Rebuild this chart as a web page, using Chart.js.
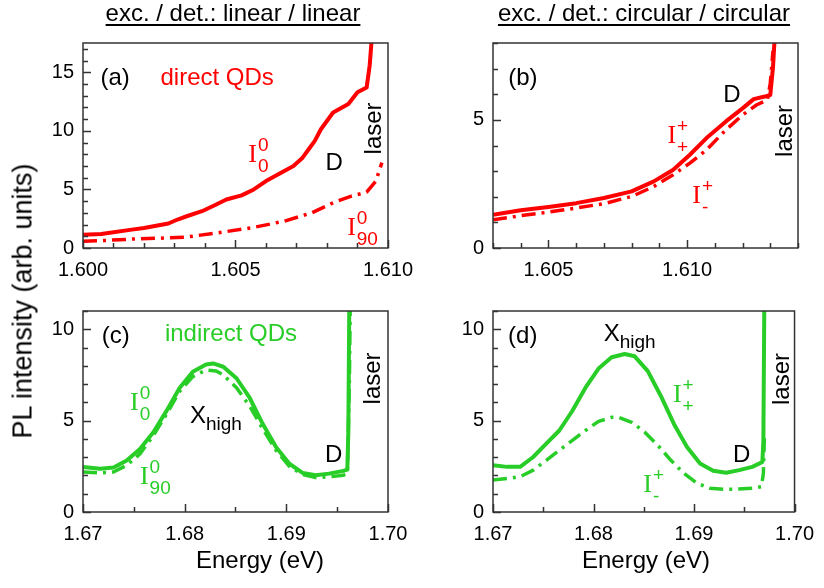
<!DOCTYPE html>
<html>
<head>
<meta charset="utf-8">
<script src="https://cdn.jsdelivr.net/npm/chart.js@4.4.1/dist/chart.umd.min.js"></script>
<style>
body { margin: 0; background: #fff; }
#fig { position: relative; width: 824px; height: 588px; overflow: hidden; font-family: "Liberation Sans", Arial, sans-serif; color: #000; }
canvas { position: absolute; }
.ttl { position: absolute; top: 1px; font-size: 24px; line-height: 24px; white-space: nowrap; transform: translateX(-50%);
       text-decoration: underline; text-decoration-thickness: 1.5px; text-underline-offset: 3px; }
.xl { position: absolute; top: 548px; font-size: 24px; line-height: 24px; white-space: nowrap; transform: translateX(-50%); }
#yl { position: absolute; left: 23px; top: 301px; font-size: 27px; line-height: 27px; white-space: nowrap;
      transform: translate(-50%, -50%) rotate(-90deg); }
</style>
</head>
<body>
<div id="fig">
  <canvas id="ca" width="440" height="290" style="left:0;top:0"></canvas>
  <canvas id="cb" width="412" height="290" style="left:412px;top:0"></canvas>
  <canvas id="cc" width="440" height="298" style="left:0;top:290px"></canvas>
  <canvas id="cd" width="412" height="298" style="left:412px;top:290px"></canvas>
  <div class="ttl" style="left:233px">exc. / det.: linear / linear</div>
  <div class="ttl" style="left:644px">exc. / det.: circular / circular</div>
  <div class="xl" style="left:260px">Energy (eV)</div>
  <div class="xl" style="left:646px">Energy (eV)</div>
  <div id="yl">PL intensity (arb. units)</div>
</div>
<script>
// panel (a): direct QDs, linear / linear
const eA0 = [1.6000, 1.6006, 1.6016, 1.6020, 1.6028, 1.6031, 1.6034, 1.6039, 1.6043, 1.6047, 1.6052, 1.6056, 1.6060,
             1.6066, 1.6069, 1.6072, 1.6074, 1.6076, 1.6078, 1.6082, 1.6087, 1.6090, 1.6093, 1.6094, 1.6095];
const iA0 = [1.14, 1.2, 1.57, 1.71, 2.09, 2.43, 2.71, 3.14, 3.63, 4.14, 4.49, 5.0, 5.71,
             6.57, 7.0, 7.71, 8.43, 9.14, 10.14, 11.57, 12.29, 13.29, 13.71, 15.6, 19];
const eA90 = [1.6000, 1.6006, 1.6017, 1.6028, 1.6034, 1.6044, 1.6055, 1.6066, 1.6075, 1.6082, 1.6088, 1.6093, 1.6096, 1.6098];
const iA90 = [0.57, 0.63, 0.77, 0.86, 0.94, 1.29, 1.71, 2.29, 3.0, 3.86, 4.43, 4.77, 5.71, 7.29];

// panel (b): direct QDs, circular / circular
const eBpp = [1.6030, 1.6040, 1.6050, 1.6060, 1.6070, 1.6080, 1.6088, 1.6095, 1.6101, 1.6107, 1.6114, 1.6120,
              1.6124, 1.6128, 1.6130, 1.6131, 1.6132];
const iBpp = [1.3, 1.47, 1.6, 1.75, 1.95, 2.21, 2.6, 3.05, 3.64, 4.29, 4.94, 5.45, 5.81, 5.91, 5.97, 7.08, 9];
const eBpm = [1.6030, 1.6040, 1.6050, 1.6060, 1.6070, 1.6080, 1.6088, 1.6095, 1.6101, 1.6107, 1.6114, 1.6120,
              1.6125, 1.6129, 1.6130, 1.6131];
const iBpm = [1.1, 1.26, 1.4, 1.56, 1.73, 2.01, 2.4, 2.86, 3.31, 3.83, 4.61, 5.19, 5.58, 5.78, 6.43, 7.7];

// panel (c): indirect QDs, linear / linear
const eC0 = [1.6700, 1.6717, 1.6730, 1.6743, 1.6756, 1.6769, 1.6782, 1.6795, 1.6808, 1.6821, 1.6828, 1.6838,
             1.6851, 1.6864, 1.6877, 1.6890, 1.6903, 1.6916, 1.6929, 1.6942, 1.6956, 1.6960, 1.6961, 1.6962];
const iC0 = [2.46, 2.37, 2.43, 2.82, 3.45, 4.35, 5.52, 6.78, 7.68, 8.07, 8.13, 7.95,
             7.32, 6.24, 4.80, 3.54, 2.64, 2.14, 2.01, 2.10, 2.25, 2.32, 4.44, 12];
const eC90 = [1.6700, 1.6717, 1.6730, 1.6743, 1.6756, 1.6769, 1.6782, 1.6795, 1.6808, 1.6821, 1.6831, 1.6838,
              1.6851, 1.6864, 1.6877, 1.6890, 1.6903, 1.6916, 1.6929, 1.6942, 1.6956, 1.6960, 1.6962, 1.6963];
const iC90 = [2.19, 2.14, 2.19, 2.55, 3.18, 4.17, 5.34, 6.6, 7.41, 7.77, 7.72, 7.5,
              6.8, 5.79, 4.53, 3.36, 2.5, 2.05, 1.89, 1.92, 2.01, 2.1, 7.1, 12];

// panel (d): indirect QDs, circular / circular
const eDpp = [1.6700, 1.6714, 1.6727, 1.6740, 1.6753, 1.6766, 1.6779, 1.6792, 1.6805, 1.6818, 1.6831, 1.6841,
              1.6854, 1.6867, 1.6880, 1.6893, 1.6906, 1.6919, 1.6932, 1.6945, 1.6958, 1.6968, 1.6969, 1.6970];
const iDpp = [2.56, 2.47, 2.47, 3.01, 3.74, 4.46, 5.54, 6.8, 7.85, 8.47, 8.65, 8.52,
              7.71, 6.35, 4.82, 3.56, 2.65, 2.26, 2.15, 2.29, 2.47, 2.74, 3.9, 12];
const eDpm = [1.6700, 1.6714, 1.6727, 1.6740, 1.6753, 1.6766, 1.6779, 1.6792, 1.6805, 1.6818, 1.6825, 1.6838,
              1.6851, 1.6864, 1.6877, 1.6890, 1.6903, 1.6916, 1.6929, 1.6942, 1.6959, 1.6967, 1.6969, 1.6970];
const iDpm = [1.75, 1.84, 1.93, 2.29, 2.83, 3.38, 3.92, 4.46, 4.96, 5.18, 5.18, 4.91,
              4.37, 3.65, 2.83, 2.11, 1.57, 1.30, 1.25, 1.25, 1.30, 1.39, 2.11, 4.1];

// tick labels
const xTicksA = [1.600, 1.605, 1.610];
const xTicksB = [1.605, 1.610];
const xTicksCD = [1.67, 1.68, 1.69, 1.70];
const yTicksA = [0, 5, 10, 15];
const yTicksB = [0, 5];
const yTicksCD = [0, 5, 10];

const red = '#ff0000';
const green = 'rgb(40,205,40)';
const black = '#000';
const SANS = '"Liberation Sans", Arial, sans-serif';
const SERIF = '"Liberation Serif", "Times New Roman", serif';

Chart.defaults.font.family = SANS;

function pts(xs, ys) {
  return xs.map((x, i) => ({ x: x, y: ys[i] }));
}

function solid(xs, ys, col) {
  return { data: pts(xs, ys), borderColor: col, borderWidth: 4, fill: false };
}

function dashdot(xs, ys, col) {
  return { data: pts(xs, ys), borderColor: col, borderWidth: 3.5, borderDash: [14, 6, 3, 6], borderCapStyle: 'butt', fill: false };
}

function steps(from, to, step) {
  const out = [];
  for (let v = from; v <= to + step / 100; v += step) out.push(v);
  return out;
}

// in-plot labels: plain text, I with super/subscript, X_high, rotated text
function drawNote(ctx, n, px, py) {
  ctx.fillStyle = n.c;
  ctx.textBaseline = 'alphabetic';
  ctx.textAlign = 'left';
  if (n.k === 'I') {
    ctx.font = '26px ' + SERIF;
    ctx.fillText('I', px, py);
    const w = ctx.measureText('I').width;
    ctx.font = '19px ' + SANS;
    ctx.fillText(n.sup, px + w + 1, py - 11);
    ctx.fillText(n.sub, px + w + 1, py + 10);
  } else if (n.k === 'X') {
    ctx.font = '24px ' + SANS;
    ctx.fillText('X', px, py);
    const w = ctx.measureText('X').width;
    ctx.font = '19px ' + SANS;
    ctx.fillText('high', px + w, py + 7);
  } else if (n.k === 'r') {
    ctx.save();
    ctx.translate(px, py);
    ctx.rotate(-Math.PI / 2);
    ctx.textAlign = 'center';
    ctx.font = '24px ' + SANS;
    ctx.fillText(n.t, 0, 0);
    ctx.restore();
  } else {
    ctx.font = '24px ' + SANS;
    ctx.fillText(n.t, px, py);
  }
}

// frame round the plot, inward ticks, labels
function decor(p) {
  return {
    id: 'decor',
    afterDraw(chart) {
      const ctx = chart.ctx, a = chart.chartArea;
      const sx = chart.scales.x, sy = chart.scales.y;
      ctx.save();
      ctx.setLineDash([]);
      ctx.strokeStyle = '#333';
      ctx.lineWidth = 1.5;
      ctx.strokeRect(a.left, a.top, a.right - a.left, a.bottom - a.top);
      ctx.beginPath();
      steps(p.xMin, p.xMax, p.xMinor).forEach(v => {
        const x = Math.round(sx.getPixelForValue(v)) + 0.5;
        const len = p.xTicks.some(t => Math.abs(t - v) < 1e-7) ? 8 : 5;
        ctx.moveTo(x, a.bottom);
        ctx.lineTo(x, a.bottom - len);
      });
      steps(0, p.yMax, 1).forEach(v => {
        const y = Math.round(sy.getPixelForValue(v)) + 0.5;
        const len = p.yTicks.some(t => Math.abs(t - v) < 1e-7) ? 8 : 5;
        ctx.moveTo(a.left, y);
        ctx.lineTo(a.left + len, y);
      });
      ctx.lineWidth = 1.5;
      ctx.strokeStyle = '#333';
      ctx.stroke();
      p.notes.forEach(n => drawNote(ctx, n, sx.getPixelForValue(n.x), sy.getPixelForValue(n.y)));
      ctx.restore();
    }
  };
}

function panel(id, p) {
  return new Chart(document.getElementById(id), {
    type: 'line',
    data: { datasets: p.sets },
    options: {
      responsive: false,
      animation: false,
      events: [],
      layout: { padding: { top: p.top, right: p.right, left: 0, bottom: 0 } },
      plugins: { legend: { display: false }, tooltip: { enabled: false } },
      elements: { point: { radius: 0 }, line: { tension: 0, borderJoinStyle: 'round' } },
      scales: {
        x: {
          type: 'linear', min: p.xMin, max: p.xMax,
          grid: { display: false, drawTicks: false }, border: { display: false },
          afterBuildTicks: s => { s.ticks = p.xTicks.map(v => ({ value: v })); },
          afterFit: s => { s.height = p.xH; },
          ticks: { padding: 10, color: black, font: { size: 20 }, maxRotation: 0, autoSkip: false,
                   callback: v => v.toFixed(p.xDec) }
        },
        y: {
          type: 'linear', min: 0, max: p.yMax,
          grid: { display: false, drawTicks: false }, border: { display: false },
          afterBuildTicks: s => { s.ticks = p.yTicks.map(v => ({ value: v })); },
          afterFit: s => { s.width = p.yW; },
          ticks: { padding: 9, color: black, font: { size: 20 }, callback: v => String(v) }
        }
      }
    },
    plugins: [decor(p)]
  });
}

panel('ca', {
  top: 43, right: 52, xH: 42, yW: 83,
  xMin: 1.600, xMax: 1.610, xMinor: 0.001, xTicks: xTicksA, xDec: 3,
  yMax: 17.5, yTicks: yTicksA,
  sets: [solid(eA0, iA0, red), dashdot(eA90, iA90, red)],
  notes: [
    { k: 't', t: '(a)', x: 1.60057, y: 13.92, c: black },
    { k: 't', t: 'direct QDs', x: 1.60254, y: 13.92, c: red },
    { k: 'I', sup: '0', sub: '0', x: 1.60542, y: 7.36, c: red },
    { k: 't', t: 'D', x: 1.60795, y: 6.68, c: black },
    { k: 'r', t: 'laser', x: 1.60976, y: 10.21, c: black },
    { k: 'I', sup: '0', sub: '90', x: 1.60866, y: 1.13, c: red }
  ]
});

panel('cb', {
  top: 43, right: 26, xH: 42, yW: 81,
  xMin: 1.603, xMax: 1.614, xMinor: 0.001, xTicks: xTicksB, xDec: 3,
  yMax: 8, yTicks: yTicksB,
  sets: [solid(eBpp, iBpp, red), dashdot(eBpm, iBpm, red)],
  notes: [
    { k: 't', t: '(b)', x: 1.60355, y: 6.36, c: black },
    { k: 't', t: 'D', x: 1.61130, y: 5.70, c: black },
    { k: 'I', sup: '+', sub: '+', x: 1.60929, y: 4.10, c: red },
    { k: 'I', sup: '+', sub: '-', x: 1.61019, y: 1.76, c: red },
    { k: 'r', t: 'laser', x: 1.61379, y: 4.57, c: black }
  ]
});

panel('cc', {
  top: 18, right: 52, xH: 76, yW: 83,
  xMin: 1.67, xMax: 1.70, xMinor: 0.005, xTicks: xTicksCD, xDec: 2,
  yMax: 11, yTicks: yTicksCD,
  sets: [solid(eC0, iC0, green), dashdot(eC90, iC90, green)],
  notes: [
    { k: 't', t: '(c)', x: 1.67184, y: 9.27, c: black },
    { k: 't', t: 'indirect QDs', x: 1.67806, y: 9.36, c: green },
    { k: 'I', sup: '0', sub: '0', x: 1.67462, y: 5.59, c: green },
    { k: 'X', x: 1.68052, y: 4.87, c: black },
    { k: 'I', sup: '0', sub: '90', x: 1.67560, y: 1.55, c: green },
    { k: 't', t: 'D', x: 1.69380, y: 2.71, c: black },
    { k: 'r', t: 'laser', x: 1.69920, y: 7.31, c: black }
  ]
});

panel('cd', {
  top: 18, right: 26, xH: 76, yW: 81,
  xMin: 1.67, xMax: 1.70, xMinor: 0.005, xTicks: xTicksCD, xDec: 2,
  yMax: 11, yTicks: yTicksCD,
  sets: [solid(eDpp, iDpp, green), dashdot(eDpm, iDpm, green)],
  notes: [
    { k: 't', t: '(d)', x: 1.67150, y: 9.24, c: black },
    { k: 'X', x: 1.68101, y: 9.36, c: black },
    { k: 'I', sup: '+', sub: '+', x: 1.68790, y: 6.04, c: green },
    { k: 'I', sup: '+', sub: '-', x: 1.68495, y: 1.10, c: green },
    { k: 't', t: 'D', x: 1.69389, y: 2.71, c: black },
    { k: 'r', t: 'laser', x: 1.69940, y: 7.28, c: black }
  ]
});
</script>
</body>
</html>
